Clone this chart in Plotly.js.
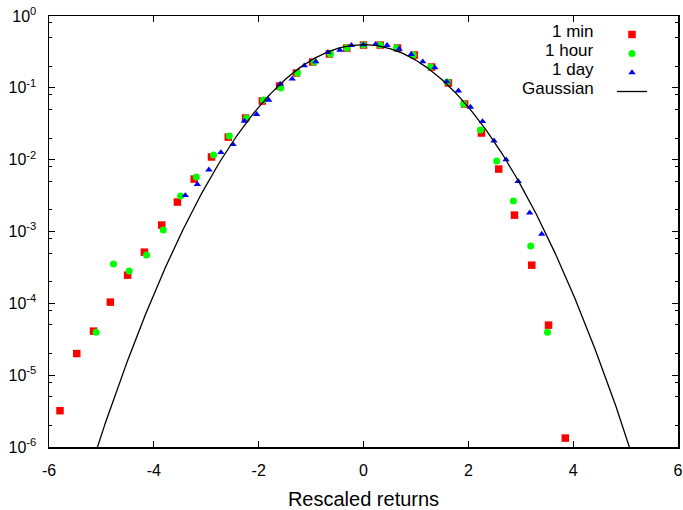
<!DOCTYPE html>
<html>
<head>
<meta charset="utf-8">
<script src="https://cdn.plot.ly/plotly-3.0.1.min.js"></script>
<style>html,body{margin:0;padding:0;background:#fff;}#chart{width:683px;height:510px;}</style>
</head>
<body>
<div id="chart"></div>
<script>
// 1 min (red squares)
var minX = [-5.79,-5.47,-5.15,-4.83,-4.50,-4.18,-3.85,-3.55,-3.23,-2.90,-2.58,-2.25,-1.93,-1.60,-1.28,-0.97,-0.65,-0.32,0.00,0.32,0.65,0.97,1.30,1.62,1.93,2.25,2.58,2.88,3.21,3.53,3.85];
var minY = [3.2e-6,2.0e-5,4.1e-5,1.04e-4,2.47e-4,5.16e-4,1.23e-3,2.57e-3,5.37e-3,1.09e-2,2.06e-2,3.80e-2,6.55e-2,0.106,0.161,0.229,0.296,0.358,0.394,0.394,0.358,0.286,0.195,0.117,0.0595,0.0235,7.4e-3,1.69e-3,3.4e-4,4.97e-5,1.33e-6];
// 1 hour (green circles)
var hourX = [-5.10,-4.77,-4.47,-4.14,-3.82,-3.49,-3.19,-2.86,-2.56,-2.23,-1.91,-1.58,-1.26,-0.94,-0.63,-0.32,0.00,0.32,0.63,0.95,1.28,1.60,1.91,2.23,2.54,2.86,3.19,3.51];
var hourY = [3.97e-5,3.52e-4,2.81e-4,4.69e-4,1.05e-3,3.11e-3,5.72e-3,1.16e-2,2.13e-2,3.8e-2,6.76e-2,0.0994,0.161,0.229,0.296,0.358,0.394,0.394,0.358,0.286,0.195,0.121,0.0595,0.0258,9.57e-3,2.65e-3,6.26e-4,3.97e-5];
// 1 day (blue triangles)
var dayX = [-3.40,-3.17,-2.95,-2.72,-2.49,-2.27,-2.04,-1.81,-1.59,-1.36,-1.13,-0.91,-0.68,-0.45,-0.23,0.00,0.23,0.45,0.68,0.91,1.13,1.36,1.59,1.81,2.04,2.27,2.49,2.72,2.95,3.17,3.40];
var dayY = [3.18e-3,4.53e-3,7.23e-3,1.26e-2,1.63e-2,3.45e-2,4.28e-2,6.76e-2,0.113,0.133,0.203,0.231,0.312,0.336,0.391,0.399,0.403,0.391,0.347,0.293,0.231,0.191,0.122,0.091,0.054,0.0341,0.0183,0.0100,4.99e-3,1.82e-3,9.2e-4];
// Gaussian reference: standard normal density
var gaussX = [], gaussY = [];
for (var i = 0; i <= 600; i++) { var gx = -6 + i * 0.02; gaussX.push(gx); gaussY.push(Math.exp(-gx * gx / 2) / Math.sqrt(2 * Math.PI)); }

var seriesNames = ['1 min', '1 hour', '1 day', 'Gaussian'];
var xTickVals = [-6, -4, -2, 0, 2, 4, 6];
var yTickVals = [1e-6, 1e-5, 1e-4, 1e-3, 1e-2, 1e-1, 1];
var yTickText = ['10<sup>-6</sup>', '10<sup>-5</sup>', '10<sup>-4</sup>', '10<sup>-3</sup>', '10<sup>-2</sup>', '10<sup>-1</sup>', '10<sup>0</sup>'];
var yMinorVals = [];
for (var d = -6; d < 0; d++) { [2, 5, 8].forEach(function (m) { yMinorVals.push(m * Math.pow(10, d)); }); }

var FONT = 'Liberation Sans, Arial, sans-serif';
var traces = [
  {x: minX, y: minY, name: seriesNames[0], type: 'scatter', mode: 'markers', marker: {symbol: 'square', size: 7.5, color: '#ff0000'}},
  {x: hourX, y: hourY, name: seriesNames[1], type: 'scatter', mode: 'markers', marker: {symbol: 'circle', size: 7, color: '#00ff00'}},
  {x: dayX, y: dayY, name: seriesNames[2], type: 'scatter', mode: 'markers', marker: {symbol: 'triangle-up', size: 6.5, color: '#0000ff'}},
  {x: gaussX, y: gaussY, name: seriesNames[3], type: 'scatter', mode: 'lines', line: {color: '#000000', width: 1.3}}
];

var rows = [31, 50, 69, 88];
var W = 683 - 49 - 5, H = 510 - 16 - 63;
var annotations = seriesNames.map(function (n, i) {
  return {text: n, xref: 'paper', yref: 'paper', x: (596 - 49) / W, y: 1 - (rows[i] - 16) / H,
    xanchor: 'right', yanchor: 'middle', showarrow: false, font: {family: FONT, size: 17, color: '#000'}};
});

var axisCommon = {
  showline: true, linecolor: '#000', linewidth: 1.5, mirror: 'allticks',
  ticks: 'inside', ticklen: 6, tickwidth: 1, tickcolor: '#000',
  showgrid: false, zeroline: false,
  tickfont: {family: FONT, size: 16, color: '#000'}
};

var layout = {
  width: 683, height: 510,
  margin: {l: 49, r: 5, t: 16, b: 63, autoexpand: false},
  paper_bgcolor: '#fff', plot_bgcolor: '#fff',
  showlegend: true,
  legend: {x: (612 - 49) / W, y: 1 - (20 - 16) / H, xanchor: 'left', yanchor: 'top',
    bgcolor: 'rgba(0,0,0,0)', borderwidth: 0, font: {family: FONT, size: 1, color: 'rgba(0,0,0,0)'}},
  xaxis: Object.assign({}, axisCommon, {
    range: [-6, 6], tickmode: 'array', tickvals: xTickVals, ticktext: xTickVals.map(String),
    ticklabelstandoff: 8,
    title: {text: 'Rescaled returns', font: {family: FONT, size: 20, color: '#000'}, standoff: 14}
  }),
  yaxis: Object.assign({}, axisCommon, {
    type: 'log', range: [-6, 0], tickmode: 'array', tickvals: yTickVals, ticktext: yTickText,
    ticklabelstandoff: 8,
    minor: {tickmode: 'array', tickvals: yMinorVals, ticks: 'inside', ticklen: 3, tickwidth: 1, tickcolor: '#000', showgrid: false}
  }),
  annotations: annotations
};

Plotly.newPlot('chart', traces, layout, {displayModeBar: false, staticPlot: true});
</script>
</body>
</html>
